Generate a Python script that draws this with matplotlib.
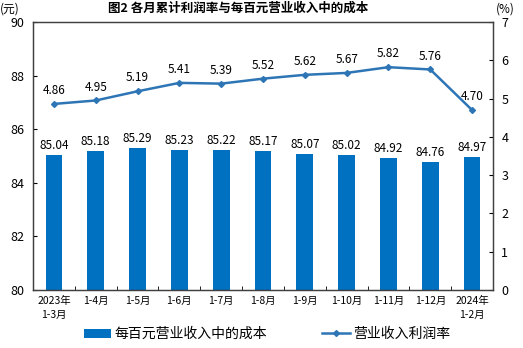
import matplotlib.pyplot as plt
import numpy as np

plt.rcParams['font.family'] = ['Noto Sans CJK SC', 'DejaVu Sans']

months = ['2023年\n1-3月', '1-4月', '1-5月', '1-6月', '1-7月', '1-8月',
          '1-9月', '1-10月', '1-11月', '1-12月', '2024年\n1-2月']
cost = [85.04, 85.18, 85.29, 85.23, 85.22, 85.17, 85.07, 85.02, 84.92, 84.76, 84.97]
rate = [4.86, 4.95, 5.19, 5.41, 5.39, 5.52, 5.62, 5.67, 5.82, 5.76, 4.70]

bar_color = '#0070C0'
line_color = '#2E75B6'

fig = plt.figure(figsize=(5.23, 3.48), dpi=100)
ax = fig.add_axes([33/523, 1 - 290/348, 460/523, 268/348])
x = np.arange(len(months))

bars = ax.bar(x, cost, width=0.4, color=bar_color, label='每百元营业收入中的成本', zorder=2)
ax.set_ylim(80, 90)
ax.set_xlim(-0.5, len(months) - 0.5)
ax.set_yticks(range(80, 91, 2))
ax.tick_params(axis='y', direction='in', length=3, labelsize=9, pad=6)
ax.set_xticks(x)
ax.set_xticklabels(months, fontsize=7.5, linespacing=1.5)
ax.tick_params(axis='x', length=0, pad=4)
ax.set_xticks(np.arange(0.5, len(months) - 1, 1), minor=True)
ax.tick_params(axis='x', which='minor', direction='in', length=3)
for xi, v in zip(x, cost):
    ax.text(xi, v + 0.12, f'{v:.2f}', ha='center', va='bottom', fontsize=8.5)

ax2 = ax.twinx()
ax2.plot(x, rate, color=line_color, marker='D', markersize=3, linewidth=1.8,
         label='营业收入利润率', zorder=3)
ax2.set_ylim(0, 7)
ax2.set_yticks(range(0, 8))
ax2.tick_params(axis='y', direction='in', length=3, labelsize=9, pad=6)
for xi, v in zip(x, rate):
    ax2.text(xi, v + 0.18, f'{v:.2f}', ha='center', va='bottom', fontsize=8.5)

for a in (ax, ax2):
    for s in a.spines.values():
        s.set_color('#404040')
        s.set_linewidth(0.9)

fig.text(10/523, 1 - 9/348, '(元)', ha='center', va='center', fontsize=8.5)
fig.text(505/523, 1 - 9/348, '(%)', ha='center', va='center', fontsize=8.5)
fig.text(238/523, 1 - 8/348, '图2 各月累计利润率与每百元营业收入中的成本',
         ha='center', va='center', fontsize=9, fontweight='bold')

h1, l1 = ax.get_legend_handles_labels()
h2, l2 = ax2.get_legend_handles_labels()
fig.legend(h1 + h2, l1 + l2, loc='center', bbox_to_anchor=(0.51, 1 - 334/348),
           ncol=2, frameon=False, fontsize=10, columnspacing=4, handlelength=2,
           handletextpad=0.2, handleheight=0.6)

fig.savefig('out.png', dpi=100)
